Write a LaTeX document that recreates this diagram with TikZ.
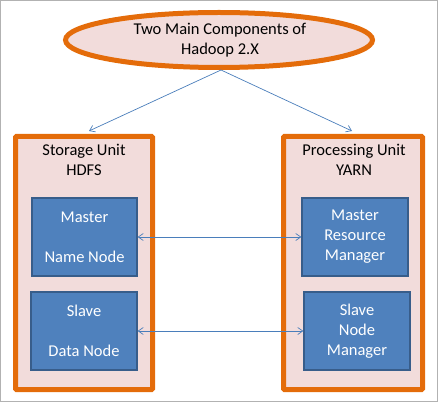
\documentclass[tikz,border=0pt]{standalone}
\usepackage{fontspec}
\setmainfont{Carlito}
\usetikzlibrary{arrows.meta,shapes.geometric}
\definecolor{orng}{RGB}{228,108,10}
\definecolor{pinkf}{RGB}{242,220,219}
\definecolor{bluef}{RGB}{79,129,189}
\definecolor{blued}{RGB}{56,93,138}
\definecolor{arr}{RGB}{74,126,187}
\tikzset{
  unitbox/.style={draw=orng, line width=5pt, fill=pinkf, rounded corners=1pt},
  bluebox/.style={draw=blued, line width=1.3pt, fill=bluef},
  conn/.style={draw=arr, line width=0.7pt, -{Straight Barb[length=5pt,width=7pt]}},
  biconn/.style={draw=arr, line width=0.7pt, {Straight Barb[length=5pt,width=7pt]}-{Straight Barb[length=5pt,width=7pt]}},
  lbl/.style={font=\fontsize{16.5}{20}\selectfont, align=center, inner sep=0pt},
  wlbl/.style={lbl, text=white}
}
\begin{document}
\begin{tikzpicture}[x=1pt,y=1pt]
\useasboundingbox (0,0) rectangle (438,402);
\draw[gray!60, line width=1pt] (0.5,0.5) rectangle (437.5,401.5);
% ellipse
\node[ellipse, draw=orng, line width=5pt, fill=pinkf, minimum width=307pt, minimum height=55pt, inner sep=0pt] (top) at (219,362) {};
\node[lbl] (toptxt) at (220,362) {Two Main Components of\\Hadoop 2.X};
% unit boxes
\draw[unitbox] (15.5,12.5) rectangle (152.5,265.5);
\draw[unitbox] (283.5,12.5) rectangle (422.5,265.5);
\coordinate (lt) at (89,271);
\coordinate (rt) at (352,271);
\node[lbl] (hdfs) at (84,258) [anchor=north] {Storage Unit\\HDFS};
\node[lbl] (yarn) at (354,258) [anchor=north] {Processing Unit\\YARN};
% blue boxes
\node[bluebox, minimum width=105pt, minimum height=78pt, inner sep=0pt] (lm) at (84.5,165) {};
\node[bluebox, minimum width=106pt, minimum height=78pt, inner sep=0pt] (ls) at (84,71) {};
\node[bluebox, minimum width=106pt, minimum height=78pt, inner sep=0pt] (rm) at (355,165) {};
\node[bluebox, minimum width=106pt, minimum height=78pt, inner sep=0pt] (rs) at (357,71) {};
\node[wlbl] at (84.5,165) {Master\\[20pt]Name Node};
\node[wlbl] at (84,71) {Slave\\[20pt]Data Node};
\node[wlbl] at (355,165) {Master\\Resource\\Manager};
\node[wlbl] at (357,71) {Slave\\Node\\Manager};
% connectors
\draw[conn] (top.south) ++(2,0) coordinate (ts) (ts) -- (lt);
\draw[conn] (ts) -- (rt);
\draw[biconn] (lm.east) -- (rm.west);
\draw[biconn] (ls.east) -- (rs.west);
\end{tikzpicture}
\end{document}
